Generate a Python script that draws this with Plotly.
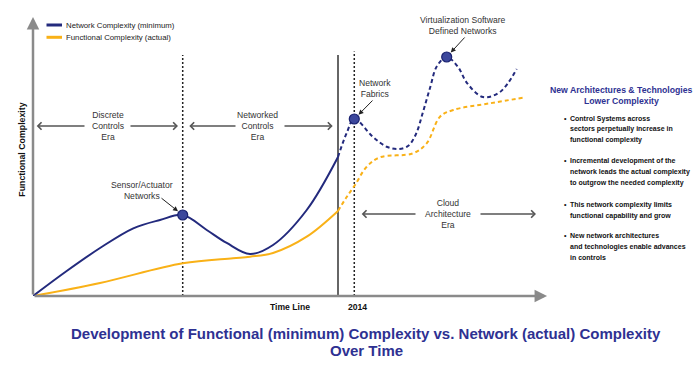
import plotly.graph_objects as go

# ---------------- data (time 0-100, complexity 0-100, arbitrary units) ----------------
net_solid_t = [0, 6.58, 13.09, 19.59, 24.80, 29.24, 33.93, 37.83, 42.38, 46.88, 53.46, 59.57]
net_solid_c = [0, 8.96, 17.20, 24.27, 27.24, 29.03, 23.66, 19.00, 15.05, 18.28, 30.82, 49.82]
net_dash_t = [59.57, 61.27, 62.75, 66.41, 69.08, 71.29, 73.24, 74.80, 76.17, 77.54, 78.91,
              80.80, 83.01, 84.77, 87.89, 91.21, 94.47]
net_dash_c = [49.82, 58.42, 63.44, 56.99, 53.51, 52.69, 53.76, 58.06, 65.95, 74.55, 82.44,
              85.66, 82.08, 76.34, 71.33, 73.12, 81.36]
func_solid_t = [0, 13.09, 29.24, 39.06, 42.38, 46.88, 53.46, 59.57]
func_solid_c = [0, 4.66, 11.72, 13.51, 14.09, 15.41, 21.25, 30.47]
func_dash_t = [59.57, 61.13, 62.89, 65.18, 67.77, 74.22, 76.89, 79.49, 82.09, 89.26, 95.76]
func_dash_c = [30.47, 35.13, 39.78, 46.34, 49.71, 51.15, 54.73, 64.27, 66.67, 69.07, 71.07]

milestone_t = [29.24, 62.75, 80.80]
milestone_c = [29.03, 63.44, 85.66]
milestone_labels = ["Sensor/Actuator<br>Networks", "Network<br>Fabrics",
                    "Virtualization Software<br>Defined Networks"]

divider_t = [29.24, 59.57, 62.75]
divider_top = [86.4, 86.4, 87.6]
divider_style = ["dot", "solid", "dot"]

era_labels = ["Discrete<br>Controls<br>Era", "Networked<br>Controls<br>Era",
              "Cloud<br>Architecture<br>Era"]
axis_labels = ["Time Line", "2014"]
legend_names = ["Network Complexity (minimum)", "Functional Complexity (actual)"]
side_title = ["New Architectures & Technologies", "Lower Complexity"]
side_bullets = [
    ["Control Systems across", "sectors perpetually increase in", "functional complexity"],
    ["Incremental development of the", "network leads the actual complexity",
     "to outgrow the needed complexity"],
    ["This network complexity limits", "functional capability and grow"],
    ["New network architectures", "and technologies enable advances", "in controls"],
]
chart_title = ["Development of Functional (minimum) Complexity vs. Network (actual) Complexity",
               "Over Time"]
y_title = "Functional Complexity"

# ---------------- styling ----------------
NAVY = "#232a7d"
ORANGE = "#f9b117"
TITLE_BLUE = "#2e3192"
GRAY = "#8a8a8a"
FONT = "Liberation Sans, Arial, sans-serif"

W, H = 700, 368
L, R, T, B = 33, 155, 17, 72
PW, PH = W - L - R, H - T - B


def xp(px):
    return (px - L) / PW


def yp(py):
    return (H - B - py) / PH


def xd(px):
    return (px - L) / PW * 100


def yd(py):
    return (H - B - py) / PH * 100


fig = go.Figure()
fig.add_trace(go.Scatter(x=func_solid_t, y=func_solid_c, mode="lines", name=legend_names[1],
                         line=dict(color=ORANGE, width=2, shape="spline"), showlegend=False))
fig.add_trace(go.Scatter(x=func_dash_t, y=func_dash_c, mode="lines", name=legend_names[1],
                         line=dict(color=ORANGE, width=2, shape="spline", dash="4px,3px"),
                         showlegend=False))
fig.add_trace(go.Scatter(x=net_solid_t, y=net_solid_c, mode="lines", name=legend_names[0],
                         line=dict(color=NAVY, width=2, shape="spline"), showlegend=False))
fig.add_trace(go.Scatter(x=net_dash_t, y=net_dash_c, mode="lines", name=legend_names[0],
                         line=dict(color=NAVY, width=2, shape="spline", dash="4px,3px"),
                         showlegend=False))
fig.add_trace(go.Scatter(x=milestone_t, y=milestone_c, mode="markers", showlegend=False,
                         marker=dict(size=10, color="#3c479c", line=dict(color="#1a2270", width=1.2))))

shapes = []
for t, top, st in zip(divider_t, divider_top, divider_style):
    shapes.append(dict(type="line", xref="x", yref="y", x0=t, x1=t, y0=0, y1=top,
                       line=dict(color="#222" if st == "dot" else "#333", width=1.5,
                                 dash="2px,2px" if st == "dot" else "solid"),
                       layer="below"))
# legend samples
for py, col in [(25, NAVY), (37.3, ORANGE)]:
    shapes.append(dict(type="line", xref="paper", yref="paper", x0=xp(46.5), x1=xp(62),
                       y0=yp(py), y1=yp(py), line=dict(color=col, width=3)))

ann = []
# axes with arrowheads
ann.append(dict(x=0, y=100, ax=0, ay=0, xref="x", yref="y", axref="x", ayref="y", text="",
                showarrow=True, arrowhead=2, arrowsize=1, arrowwidth=2.5, arrowcolor=GRAY))
ann.append(dict(x=100.4, y=0, ax=0, ay=0, xref="x", yref="y", axref="x", ayref="y", text="",
                showarrow=True, arrowhead=2, arrowsize=1, arrowwidth=2.5, arrowcolor=GRAY))

# era double arrows (two segments each) + labels
era_geo = [  # y_px, left_px, gap_left, gap_right, right_px, center_px
    (126, 36.7, 86, 129, 178, 108),
    (126, 189.3, 237, 283, 332.7, 257),
    (214, 361.7, 417, 479, 536, 448),
]
for lab, (py, lx, gl, gr, rx, cx) in zip(era_labels, era_geo):
    for head, tail in [(lx, gl), (rx, gr)]:
        ann.append(dict(x=xd(head), y=yd(py), ax=xd(tail), ay=yd(py), xref="x", yref="y",
                        axref="x", ayref="y", text="", showarrow=True, arrowhead=4,
                        arrowsize=1.1, arrowwidth=1.3, arrowcolor="#555"))
    ann.append(dict(x=xd(cx), y=yd(py), xref="x", yref="y", text=lab, showarrow=False,
                    font=dict(family=FONT, size=8.6, color="#333")))

# milestone labels with arrows
label_geo = [  # text centre px, arrow tail px
    ((142, 190), (160, 197)),
    ((375, 88.5), (374, 99)),
    ((463.3, 25), (466, 36)),
]
for lab, t, c, ((tx, ty), (ax_, ay_)) in zip(milestone_labels, milestone_t, milestone_c, label_geo):
    ann.append(dict(x=xd(tx), y=yd(ty), xref="x", yref="y", text=lab, showarrow=False,
                    font=dict(family=FONT, size=8.6, color="#333")))
    ann.append(dict(x=t, y=c, ax=xd(ax_), ay=yd(ay_), xref="x", yref="y", axref="x", ayref="y",
                    text="", showarrow=True, arrowhead=2, arrowsize=1, arrowwidth=1,
                    arrowcolor="#222", standoff=6))

# legend text
for py, name in [(25, legend_names[0]), (37.3, legend_names[1])]:
    ann.append(dict(x=xp(63.5), y=yp(py), xref="paper", yref="paper", text=name, showarrow=False,
                    xanchor="left", font=dict(family=FONT, size=7.8, color="#222")))

# axis labels
ann.append(dict(x=xp(21.7), y=yp(150), xref="paper", yref="paper", text="<b>" + y_title + "</b>",
                textangle=-90, showarrow=False, font=dict(family=FONT, size=8.8, color="#111")))
ann.append(dict(x=xp(289.5), y=yp(306.5), xref="paper", yref="paper",
                text="<b>" + axis_labels[0] + "</b>", showarrow=False,
                font=dict(family=FONT, size=8.6, color="#111")))
ann.append(dict(x=xp(357), y=yp(306.5), xref="paper", yref="paper",
                text="<b>" + axis_labels[1] + "</b>", showarrow=False,
                font=dict(family=FONT, size=8.6, color="#111")))

# side panel
for py, s in zip([90, 101], side_title):
    ann.append(dict(x=xp(621.5), y=yp(py), xref="paper", yref="paper", text="<b>" + s + "</b>",
                    showarrow=False, font=dict(family=FONT, size=8.7, color=TITLE_BLUE)))
bullet_y = [[118.5, 129.3, 140], [160.7, 171.7, 182.7], [205, 216], [235.7, 246.7, 257.7]]
for lines, ys in zip(side_bullets, bullet_y):
    ann.append(dict(x=xp(565.5), y=yp(ys[0]), xref="paper", yref="paper", text="<b>•</b>",
                    showarrow=False, font=dict(family=FONT, size=7, color="#111")))
    for s, py in zip(lines, ys):
        ann.append(dict(x=xp(567.5), y=yp(py), xref="paper", yref="paper", text="<b>" + s + "</b>",
                        xanchor="left", showarrow=False, font=dict(family=FONT, size=7, color="#111")))

# chart title (two tightly spaced lines)
for py, s in zip([333, 350.5], chart_title):
    ann.append(dict(x=xp(366), y=yp(py), xref="paper", yref="paper", text="<b>" + s + "</b>",
                    showarrow=False, borderpad=0, borderwidth=0,
                    font=dict(family=FONT, size=15, color=TITLE_BLUE)))

# explicit anchors (paper-referenced annotations otherwise auto-anchor by position)
for a in ann:
    a.setdefault("xanchor", "center")
    a.setdefault("yanchor", "middle")

fig.update_layout(
    width=W, height=H, margin=dict(l=L, r=R, t=T, b=B, pad=0),
    paper_bgcolor="white", plot_bgcolor="white",
    xaxis=dict(visible=False, range=[0, 100], fixedrange=True),
    yaxis=dict(visible=False, range=[0, 100], fixedrange=True),
    shapes=shapes, annotations=ann, showlegend=False,
)
fig.write_html("out.html", config={"displayModeBar": False},
               post_script="document.body.style.margin='0';document.body.style.overflow='hidden';")
